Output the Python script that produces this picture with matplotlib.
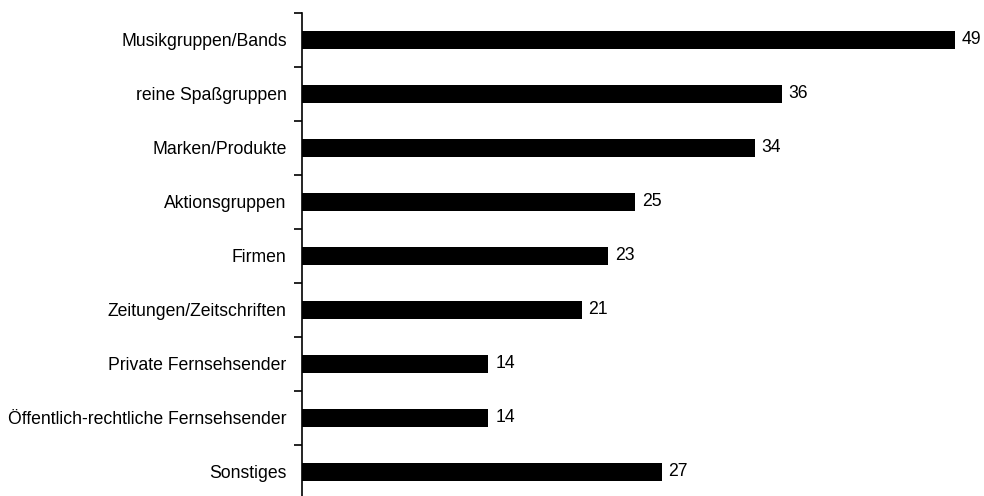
import numpy as np
import matplotlib.pyplot as plt
from matplotlib.ticker import FixedLocator

plt.rcParams['font.family'] = ['Liberation Sans', 'DejaVu Sans']

categories = [
    "Musikgruppen/Bands",
    "reine Spaßgruppen",
    "Marken/Produkte",
    "Aktionsgruppen",
    "Firmen",
    "Zeitungen/Zeitschriften",
    "Private Fernsehsender",
    "Öffentlich-rechtliche Fernsehsender",
    "Sonstiges",
]
values = [49, 36, 34, 25, 23, 21, 14, 14, 27]

fig = plt.figure(figsize=(9.84, 4.96), dpi=100)
ax = fig.add_axes([302 / 984, -3 / 496, 666 / 984, 486 / 496])

y = np.arange(len(categories))
ax.barh(y, values, height=0.33, color="black")
for yi, v in zip(y, values):
    ax.text(v + 0.5, yi, str(v), va="center", ha="left", fontsize=12.7)

ax.set_xlim(0, 50)
ax.set_ylim(len(categories) - 0.5, -0.5)
ax.set_yticks(y)
ax.set_yticklabels(categories, fontsize=12.7)
# short ticks between the categories, none at the labels
ax.yaxis.set_minor_locator(FixedLocator(np.arange(-0.5, len(categories), 1)))
ax.tick_params(axis="y", which="major", length=0, pad=11)
ax.tick_params(axis="y", which="minor", length=6, width=1.2, direction="out")

ax.set_xticks([])
for side in ["top", "right", "bottom"]:
    ax.spines[side].set_visible(False)
ax.spines["left"].set_linewidth(1.2)

fig.savefig("out.png", dpi=100)
